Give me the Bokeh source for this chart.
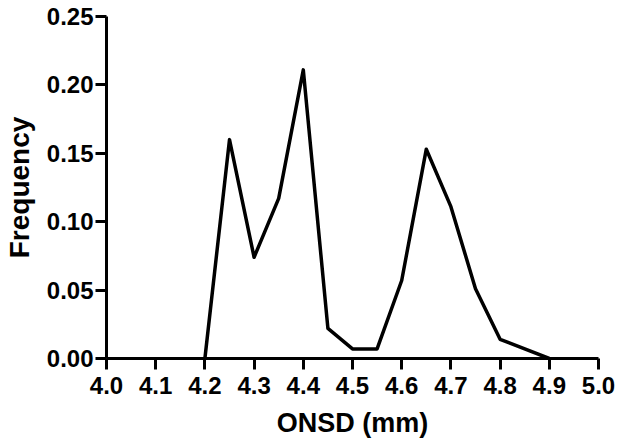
from bokeh.plotting import figure
from bokeh.models import FixedTicker, NumeralTickFormatter, Range1d
from bokeh.embed import file_html
from bokeh.resources import INLINE

# ONSD (mm) values and frequencies
onsd = [4.20, 4.25, 4.30, 4.35, 4.40, 4.45, 4.50, 4.55, 4.60, 4.65, 4.70, 4.75, 4.80, 4.90]
frequency = [0.000, 0.160, 0.074, 0.117, 0.211, 0.022, 0.007, 0.007, 0.057, 0.153, 0.111, 0.051, 0.014, 0.000]

x_ticks = [4.0, 4.1, 4.2, 4.3, 4.4, 4.5, 4.6, 4.7, 4.8, 4.9, 5.0]
y_ticks = [0.00, 0.05, 0.10, 0.15, 0.20, 0.25]

FONT = "Liberation Sans"

p = figure(output_backend="svg", toolbar_location=None,
           frame_width=492, frame_height=342,
           min_border_left=103, min_border_top=16, min_border_right=24, min_border_bottom=70,
           x_range=Range1d(4.0, 5.0), y_range=Range1d(0.0, 0.25))

p.line(onsd, frequency, line_color="black", line_width=3.5, line_join="round")

p.outline_line_color = None
p.xgrid.grid_line_color = None
p.ygrid.grid_line_color = None
p.background_fill_color = "white"
p.border_fill_color = "white"

for ax in (p.xaxis[0], p.yaxis[0]):
    ax.axis_line_width = 3
    ax.axis_line_color = "black"
    ax.major_tick_line_width = 3
    ax.major_tick_line_color = "black"
    ax.major_tick_out = 11
    ax.major_tick_in = 0
    ax.minor_tick_line_color = None
    ax.major_label_text_font = FONT
    ax.major_label_text_font_style = "bold"
    ax.major_label_text_font_size = "24px"
    ax.major_label_text_color = "black"
    ax.axis_label_text_font = FONT
    ax.axis_label_text_font_style = "bold"
    ax.axis_label_text_color = "black"

p.xaxis.axis_label_text_font_size = "27px"
p.yaxis.axis_label_text_font_size = "28px"
p.xaxis.ticker = FixedTicker(ticks=x_ticks)
p.yaxis.ticker = FixedTicker(ticks=y_ticks)
p.xaxis.formatter = NumeralTickFormatter(format="0.0")
p.yaxis.formatter = NumeralTickFormatter(format="0.00")
p.xaxis.axis_label = "ONSD (mm)"
p.yaxis.axis_label = "Frequency"
p.xaxis.major_label_standoff = 7
p.yaxis.major_label_standoff = 2
p.xaxis.axis_label_standoff = 11
p.yaxis.axis_label_standoff = 9

open("out.html", "w").write(file_html(p, INLINE))
